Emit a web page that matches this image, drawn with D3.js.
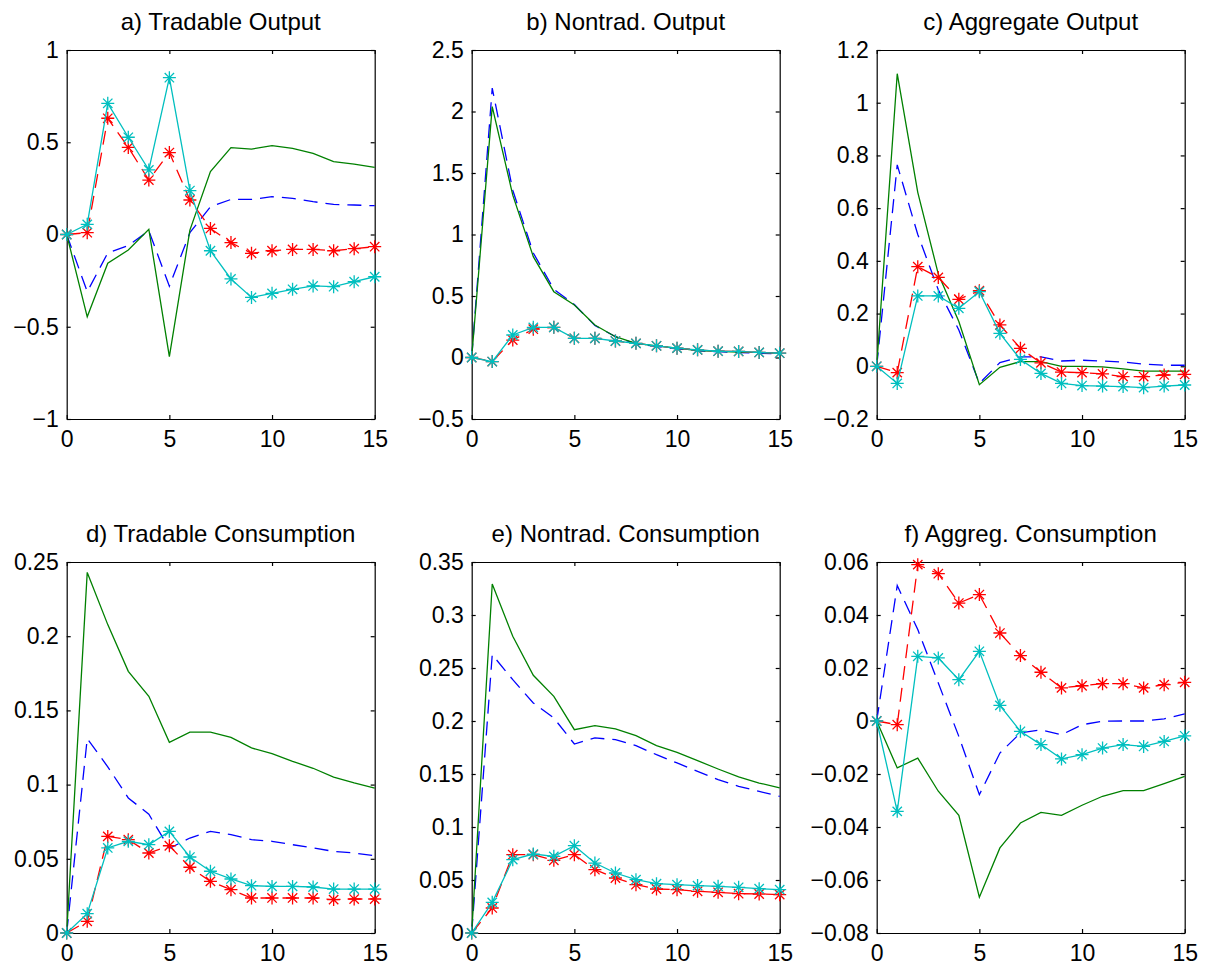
<!DOCTYPE html>
<html>
<head>
<meta charset="utf-8">
<script src="https://cdn.jsdelivr.net/npm/d3@7"></script>
<style>
  body { margin: 0; background: #fff; }
  svg { display: block; }
  text { font-family: "Liberation Sans", Arial, Helvetica, sans-serif; fill: #000; }
</style>
</head>
<body>
<svg width="1210" height="969"></svg>
<script>
// horizon (quarters after shock)
var steps = [0, 1, 2, 3, 4, 5, 6, 7, 8, 9, 10, 11, 12, 13, 14, 15];
var xTicks = [0, 5, 10, 15];

var titles = [
    "a) Tradable Output", "b) Nontrad. Output", "c) Aggregate Output",
    "d) Tradable Consumption", "e) Nontrad. Consumption", "f) Aggreg. Consumption"
];

// a) tradable output
var aBlue  = [0, -0.31, -0.10, -0.06, 0.02, -0.28, 0.01, 0.15, 0.19, 0.19, 0.205, 0.196, 0.178, 0.163, 0.16, 0.156];
var aGreen = [0, -0.446, -0.156, -0.084, 0.028, -0.662, 0.024, 0.341, 0.471, 0.463, 0.482, 0.467, 0.44, 0.395, 0.382, 0.364];
var aRed   = [0, 0.01, 0.63, 0.472, 0.295, 0.444, 0.187, 0.033, -0.044, -0.102, -0.088, -0.081, -0.081, -0.088, -0.077, -0.066];
var aCyan  = [0, 0.055, 0.711, 0.527, 0.35, 0.85, 0.238, -0.088, -0.241, -0.341, -0.319, -0.297, -0.279, -0.283, -0.256, -0.229];
var aTicks = [-1, -0.5, 0, 0.5, 1];

// b) nontradable output
var bBlue  = [0, 2.19, 1.36, 0.85, 0.555, 0.43, 0.26, 0.17, 0.11, 0.09, 0.07, 0.055, 0.047, 0.04, 0.035, 0.03];
var bGreen = [0, 2.04, 1.32, 0.82, 0.535, 0.427, 0.264, 0.169, 0.115, 0.095, 0.076, 0.057, 0.049, 0.043, 0.041, 0.035];
var bRed   = [0, -0.033, 0.142, 0.23, 0.245, 0.156, 0.156, 0.134, 0.115, 0.095, 0.076, 0.062, 0.051, 0.049, 0.041, 0.035];
var bCyan  = [0, -0.033, 0.183, 0.245, 0.245, 0.156, 0.156, 0.134, 0.115, 0.095, 0.076, 0.062, 0.051, 0.049, 0.041, 0.035];
var bTicks = [-0.5, 0, 0.5, 1, 1.5, 2, 2.5];

// c) aggregate output
var cBlue  = [0, 0.764, 0.5, 0.29, 0.138, -0.065, 0.014, 0.036, 0.036, 0.02, 0.023, 0.02, 0.016, 0.008, 0.004, 0.004];
var cGreen = [0, 1.11, 0.66, 0.35, 0.17, -0.07, -0.004, 0.018, 0.018, 0.0, 0.0, -0.002, -0.01, -0.018, -0.018, -0.018];
var cRed   = [0, -0.024, 0.378, 0.337, 0.254, 0.287, 0.157, 0.068, 0.013, -0.022, -0.024, -0.029, -0.039, -0.039, -0.033, -0.031];
var cCyan  = [0, -0.065, 0.267, 0.267, 0.22, 0.283, 0.125, 0.026, -0.027, -0.065, -0.073, -0.075, -0.077, -0.081, -0.075, -0.071];
var cTicks = [-0.2, 0, 0.2, 0.4, 0.6, 0.8, 1, 1.2];

// d) tradable consumption
var dBlue  = [0, 0.131, 0.112, 0.091, 0.08, 0.057, 0.064, 0.0685, 0.0663, 0.0629, 0.0618, 0.0595, 0.0573, 0.055, 0.0539, 0.0521];
var dGreen = [0, 0.243, 0.2078, 0.1763, 0.1595, 0.1285, 0.1354, 0.1354, 0.1318, 0.1247, 0.1208, 0.1157, 0.111, 0.1051, 0.1011, 0.0977];
var dRed   = [0, 0.0079, 0.0651, 0.0629, 0.0539, 0.0588, 0.0443, 0.0348, 0.0292, 0.0236, 0.0236, 0.0236, 0.0236, 0.0225, 0.0229, 0.0229];
var dCyan  = [0, 0.013, 0.0573, 0.0618, 0.0595, 0.0685, 0.0512, 0.0416, 0.0364, 0.0319, 0.0314, 0.0314, 0.031, 0.0296, 0.0296, 0.0296];
var dTicks = [0, 0.05, 0.1, 0.15, 0.2, 0.25];

// e) nontradable consumption
var eBlue  = [0, 0.2626, 0.239, 0.217, 0.2028, 0.1783, 0.184, 0.1824, 0.1767, 0.1682, 0.1604, 0.1525, 0.1447, 0.1384, 0.1336, 0.1289];
var eGreen = [0, 0.3292, 0.2799, 0.2431, 0.2233, 0.1918, 0.1956, 0.1925, 0.1862, 0.1767, 0.1704, 0.1626, 0.1547, 0.1472, 0.1415, 0.1368];
var eRed   = [0, 0.0236, 0.0739, 0.0739, 0.0686, 0.0739, 0.0597, 0.0519, 0.0456, 0.0415, 0.0409, 0.0393, 0.0384, 0.0371, 0.0368, 0.0362];
var eCyan  = [0, 0.0289, 0.0692, 0.0745, 0.0723, 0.0824, 0.066, 0.0566, 0.0503, 0.0465, 0.0456, 0.0447, 0.044, 0.0431, 0.0418, 0.0409];
var eTicks = [0, 0.05, 0.1, 0.15, 0.2, 0.25, 0.3, 0.35];

// f) aggregate consumption
var fBlue  = [0, 0.0511, 0.0345, 0.0143, -0.0058, -0.0278, -0.0121, -0.0045, -0.0033, -0.0052, -0.0014, -0.0001, 0, 0, 0.0008, 0.0027];
var fGreen = [0, -0.0177, -0.014, -0.0265, -0.0356, -0.0665, -0.0479, -0.0385, -0.0345, -0.0356, -0.0318, -0.0284, -0.0263, -0.0263, -0.0236, -0.0209];
var fRed   = [0, -0.0014, 0.059, 0.0556, 0.0445, 0.0477, 0.0332, 0.0247, 0.0184, 0.0125, 0.0133, 0.0141, 0.0141, 0.0125, 0.0137, 0.0146];
var fCyan  = [0, -0.0341, 0.0244, 0.0238, 0.0156, 0.0263, 0.0059, -0.0039, -0.0089, -0.0143, -0.0127, -0.0102, -0.0089, -0.0096, -0.0077, -0.0056];
var fTicks = [-0.08, -0.06, -0.04, -0.02, 0, 0.02, 0.04, 0.06];

var panels = [
    { blue: aBlue, green: aGreen, red: aRed, cyan: aCyan, ticks: aTicks },
    { blue: bBlue, green: bGreen, red: bRed, cyan: bCyan, ticks: bTicks },
    { blue: cBlue, green: cGreen, red: cRed, cyan: cCyan, ticks: cTicks },
    { blue: dBlue, green: dGreen, red: dRed, cyan: dCyan, ticks: dTicks },
    { blue: eBlue, green: eGreen, red: eRed, cyan: eCyan, ticks: eTicks },
    { blue: fBlue, green: fGreen, red: fRed, cyan: fCyan, ticks: fTicks }
];

var colLeft = [66.7, 471.7, 876.7],
    rowTop = [50, 562],
    rowH = [369, 371],
    w = 308;

var svg = d3.select("svg");

// matlab style tick labels: 0.5, 0.05, minus sign
var fmt = function (v) {
    var s = String(+v.toFixed(4));
    return s.replace("-", "\u2212");
};

// '*' marker = plus + cross
function star(g, x, y, r, color) {
    var d = r * 0.72;
    var p = "M" + (x - r) + "," + y + "H" + (x + r) +
        "M" + x + "," + (y - r) + "V" + (y + r) +
        "M" + (x - d) + "," + (y - d) + "L" + (x + d) + "," + (y + d) +
        "M" + (x - d) + "," + (y + d) + "L" + (x + d) + "," + (y - d);
    g.append("path").attr("d", p).attr("stroke", color).attr("stroke-width", 1.3).attr("fill", "none");
}

panels.forEach(function (p, i) {
    var col = i % 3, row = Math.floor(i / 3);
    var h = rowH[row];
    var g = svg.append("g")
        .attr("transform", "translate(" + colLeft[col] + "," + rowTop[row] + ")");

    var x = d3.scaleLinear().domain([0, 15]).range([0, w]);
    var y = d3.scaleLinear().domain(d3.extent(p.ticks)).range([h, 0]);

    // axes with inward ticks, mirrored on top / right
    g.append("g").attr("class", "axis")
        .attr("transform", "translate(0," + h + ")")
        .call(d3.axisBottom(x).tickValues(xTicks).tickSize(-4).tickSizeOuter(0).tickPadding(12).tickFormat(d3.format("d")));
    g.append("g").attr("class", "axis")
        .call(d3.axisTop(x).tickValues(xTicks).tickSize(-4).tickSizeOuter(0).tickFormat(""));
    g.append("g").attr("class", "axis")
        .call(d3.axisLeft(y).tickValues(p.ticks).tickSize(-4).tickSizeOuter(0).tickPadding(8).tickFormat(fmt));
    g.append("g").attr("class", "axis")
        .attr("transform", "translate(" + w + ",0)")
        .call(d3.axisRight(y).tickValues(p.ticks).tickSize(-4).tickSizeOuter(0).tickFormat(""));

    g.selectAll(".axis text").style("font-size", "23px").attr("font-family", null);
    g.selectAll(".axis path, .axis line").attr("stroke", "#000").attr("stroke-width", 1.2);

    var line = d3.line()
        .x(function (d, k) { return x(steps[k]); })
        .y(function (d) { return y(d); });

    g.append("path").datum(p.blue).attr("d", line)
        .attr("fill", "none").attr("stroke", "#0000ff").attr("stroke-width", 1.3).attr("stroke-dasharray", "14,8");
    g.append("path").datum(p.green).attr("d", line)
        .attr("fill", "none").attr("stroke", "#008000").attr("stroke-width", 1.3);
    g.append("path").datum(p.red).attr("d", line)
        .attr("fill", "none").attr("stroke", "#ff0000").attr("stroke-width", 1.3).attr("stroke-dasharray", "14,8");
    p.red.forEach(function (v, k) { star(g, x(steps[k]), y(v), 6.5, "#ff0000"); });
    g.append("path").datum(p.cyan).attr("d", line)
        .attr("fill", "none").attr("stroke", "#00bfbf").attr("stroke-width", 1.3);
    p.cyan.forEach(function (v, k) { star(g, x(steps[k]), y(v), 6.5, "#00bfbf"); });

    g.append("text")
        .attr("x", w / 2)
        .attr("y", -20)
        .attr("text-anchor", "middle")
        .style("font-size", "24px")
        .text(titles[i]);
});
</script>
</body>
</html>
